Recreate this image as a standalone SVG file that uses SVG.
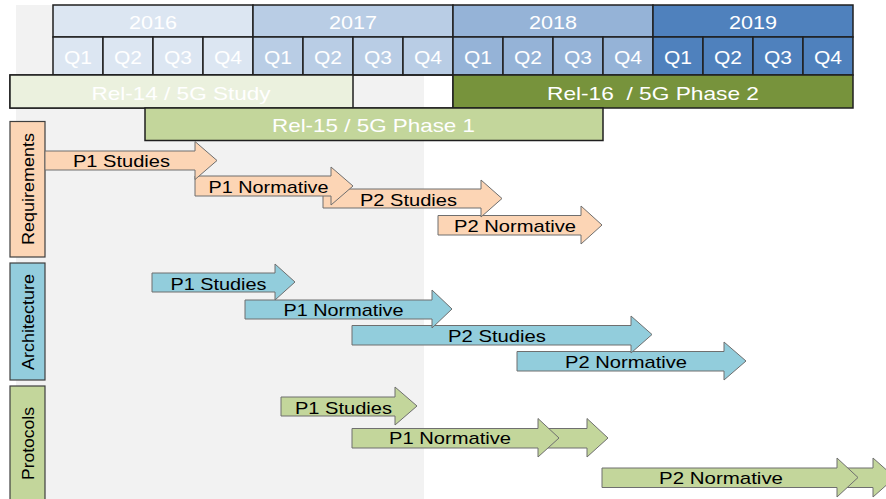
<svg xmlns="http://www.w3.org/2000/svg" width="886" height="499" viewBox="0 0 886 499">
<style>
text{font-family:"Liberation Sans",Arial,sans-serif}
.hd{fill:#fff;font-size:19px;text-anchor:middle}
.cell{stroke:#1f1f1f;stroke-width:1.5}
.rel{stroke:#1f1f1f;stroke-width:1.5}
.lab{stroke:#3f3f3f;stroke-width:1.2}
.lt{fill:#000;font-size:17px;text-anchor:middle}
.arr{stroke:#6f6f6f;stroke-width:1}
.at{fill:#000;font-size:17px;text-anchor:middle}
.or{fill:#fcd5b5}
.bl{fill:#92cddc}
.gr{fill:#c3d69b}
</style>
<rect x="0" y="0" width="886" height="499" fill="#fff"/>
<rect x="16" y="5" width="408" height="494" fill="#f2f2f2"/>

<g id="timeline">
<rect class="cell" x="53" y="5" width="200" height="32" fill="#dce6f2"/>
<rect class="cell" x="253" y="5" width="200" height="32" fill="#b9cde5"/>
<rect class="cell" x="453" y="5" width="200" height="32" fill="#95b3d7"/>
<rect class="cell" x="653" y="5" width="200" height="32" fill="#4f81bd"/>
<text class="hd" x="153" y="28.5" textLength="48" lengthAdjust="spacingAndGlyphs">2016</text>
<text class="hd" x="353" y="28.5" textLength="48" lengthAdjust="spacingAndGlyphs">2017</text>
<text class="hd" x="553" y="28.5" textLength="48" lengthAdjust="spacingAndGlyphs">2018</text>
<text class="hd" x="753" y="28.5" textLength="48" lengthAdjust="spacingAndGlyphs">2019</text>
<g>
<rect class="cell" x="53" y="37" width="50" height="38" fill="#dce6f2"/>
<rect class="cell" x="103" y="37" width="50" height="38" fill="#dce6f2"/>
<rect class="cell" x="153" y="37" width="50" height="38" fill="#dce6f2"/>
<rect class="cell" x="203" y="37" width="50" height="38" fill="#dce6f2"/>
<rect class="cell" x="253" y="37" width="50" height="38" fill="#b9cde5"/>
<rect class="cell" x="303" y="37" width="50" height="38" fill="#b9cde5"/>
<rect class="cell" x="353" y="37" width="50" height="38" fill="#b9cde5"/>
<rect class="cell" x="403" y="37" width="50" height="38" fill="#b9cde5"/>
<rect class="cell" x="453" y="37" width="50" height="38" fill="#95b3d7"/>
<rect class="cell" x="503" y="37" width="50" height="38" fill="#95b3d7"/>
<rect class="cell" x="553" y="37" width="50" height="38" fill="#95b3d7"/>
<rect class="cell" x="603" y="37" width="50" height="38" fill="#95b3d7"/>
<rect class="cell" x="653" y="37" width="50" height="38" fill="#4f81bd"/>
<rect class="cell" x="703" y="37" width="50" height="38" fill="#4f81bd"/>
<rect class="cell" x="753" y="37" width="50" height="38" fill="#4f81bd"/>
<rect class="cell" x="803" y="37" width="50" height="38" fill="#4f81bd"/>
</g>
<g>
<text class="hd" x="78" y="64" textLength="28" lengthAdjust="spacingAndGlyphs">Q1</text>
<text class="hd" x="128" y="64" textLength="28" lengthAdjust="spacingAndGlyphs">Q2</text>
<text class="hd" x="178" y="64" textLength="28" lengthAdjust="spacingAndGlyphs">Q3</text>
<text class="hd" x="228" y="64" textLength="28" lengthAdjust="spacingAndGlyphs">Q4</text>
<text class="hd" x="278" y="64" textLength="28" lengthAdjust="spacingAndGlyphs">Q1</text>
<text class="hd" x="328" y="64" textLength="28" lengthAdjust="spacingAndGlyphs">Q2</text>
<text class="hd" x="378" y="64" textLength="28" lengthAdjust="spacingAndGlyphs">Q3</text>
<text class="hd" x="428" y="64" textLength="28" lengthAdjust="spacingAndGlyphs">Q4</text>
<text class="hd" x="478" y="64" textLength="28" lengthAdjust="spacingAndGlyphs">Q1</text>
<text class="hd" x="528" y="64" textLength="28" lengthAdjust="spacingAndGlyphs">Q2</text>
<text class="hd" x="578" y="64" textLength="28" lengthAdjust="spacingAndGlyphs">Q3</text>
<text class="hd" x="628" y="64" textLength="28" lengthAdjust="spacingAndGlyphs">Q4</text>
<text class="hd" x="678" y="64" textLength="28" lengthAdjust="spacingAndGlyphs">Q1</text>
<text class="hd" x="728" y="64" textLength="28" lengthAdjust="spacingAndGlyphs">Q2</text>
<text class="hd" x="778" y="64" textLength="28" lengthAdjust="spacingAndGlyphs">Q3</text>
<text class="hd" x="828" y="64" textLength="28" lengthAdjust="spacingAndGlyphs">Q4</text>
</g>
</g>

<g id="rel14">
<rect class="rel" x="10" y="75" width="443" height="33" fill="none"/>
<rect class="rel" x="10" y="75" width="343" height="33" fill="#ebf1de"/>
<text class="hd" x="181" y="99.5" textLength="179" lengthAdjust="spacingAndGlyphs">Rel-14 / 5G Study</text>
</g>
<g id="rel16">
<rect class="rel" x="453" y="75" width="400" height="33" fill="#77933c"/>
<text class="hd" x="653" y="100" textLength="212" lengthAdjust="spacingAndGlyphs" xml:space="preserve">Rel-16  / 5G Phase 2</text>
</g>
<g id="rel15">
<rect class="rel" x="145" y="108" width="458" height="32.5" fill="#c3d69b"/>
<text class="hd" x="373.5" y="132" textLength="203" lengthAdjust="spacingAndGlyphs">Rel-15 / 5G Phase 1</text>
</g>

<g id="lbl-requirements">
<rect class="lab" x="10" y="121.5" width="35" height="135.5" fill="#fcd5b5"/>
<text class="lt" transform="translate(33.5,189) rotate(-90)" textLength="112" lengthAdjust="spacingAndGlyphs">Requirements</text>
</g>
<g id="lbl-architecture">
<rect class="lab" x="10" y="263" width="35" height="117" fill="#93cddd"/>
<text class="lt" transform="translate(33.5,322) rotate(-90)" textLength="96" lengthAdjust="spacingAndGlyphs">Architecture</text>
</g>
<g id="lbl-protocols">
<rect class="lab" x="10" y="386" width="35" height="125" fill="#c3d69b"/>
<text class="lt" transform="translate(33.5,443.5) rotate(-90)" textLength="73" lengthAdjust="spacingAndGlyphs">Protocols</text>
</g>

<g id="connectors">
<!-- Requirements -->
<g id="req-p2-normative">
<polygon class="arr or" points="438,215.5 581,215.5 581,206 602,225 581,244 581,235 438,235"/>
<text class="at" x="515" y="231.5" textLength="122" lengthAdjust="spacingAndGlyphs">P2 Normative</text>
</g>
<g id="req-p2-studies">
<polygon class="arr or" points="323,189 481,189 481,180 502,198.5 481,217 481,208 323,208"/>
<text class="at" x="408.5" y="205.5" textLength="97" lengthAdjust="spacingAndGlyphs">P2 Studies</text>
</g>
<g id="req-p1-normative">
<polygon class="arr or" points="195,176 331,176 331,167 353,186 331,205 331,196 195,196"/>
<text class="at" x="268.5" y="192.5" textLength="120" lengthAdjust="spacingAndGlyphs">P1 Normative</text>
</g>
<g id="req-p1-studies">
<polygon class="arr or" points="45,151 195,151 195,141.5 217,160.5 195,179.5 195,170 45,170"/>
<text class="at" x="121.5" y="167" textLength="97" lengthAdjust="spacingAndGlyphs">P1 Studies</text>
</g>
<!-- Architecture -->
<g id="arch-p2-normative">
<polygon class="arr bl" points="517,351.5 724,351.5 724,342 746,361 724,380 724,371 517,371"/>
<text class="at" x="626" y="367.5" textLength="122" lengthAdjust="spacingAndGlyphs">P2 Normative</text>
</g>
<g id="arch-p2-studies">
<polygon class="arr bl" points="352,325.5 631,325.5 631,316 652,334.5 631,353 631,345 352,345"/>
<text class="at" x="497" y="341.5" textLength="98" lengthAdjust="spacingAndGlyphs">P2 Studies</text>
</g>
<g id="arch-p1-normative">
<polygon class="arr bl" points="245,300 432,300 432,290 452,309 432,328 432,319 245,319"/>
<text class="at" x="343.5" y="316" textLength="120" lengthAdjust="spacingAndGlyphs">P1 Normative</text>
</g>
<g id="arch-p1-studies">
<polygon class="arr bl" points="152,273 275,273 275,264 295,282 275,300 275,292 152,292"/>
<text class="at" x="218.5" y="290" textLength="96" lengthAdjust="spacingAndGlyphs">P1 Studies</text>
</g>
<!-- Protocols -->
<g id="prot-p2-normative">
<polygon class="arr gr" points="840,468 873,468 873,458 895,477.5 873,497 873,487.5 840,487.5"/>
<polygon class="arr gr" points="602,468 837,468 837,458 858,477.5 837,497 837,487.5 602,487.5"/>
<text class="at" x="721" y="483.5" textLength="124" lengthAdjust="spacingAndGlyphs">P2 Normative</text>
</g>
<g id="prot-p1-normative">
<polygon class="arr gr" points="540,428.5 587,428.5 587,418.5 608,438 587,457 587,448 540,448"/>
<polygon class="arr gr" points="352,428.5 538,428.5 538,418.5 559,438 538,457 538,448 352,448"/>
<text class="at" x="450" y="443.5" textLength="122" lengthAdjust="spacingAndGlyphs">P1 Normative</text>
</g>
<g id="prot-p1-studies">
<polygon class="arr gr" points="281,397 395,397 395,387 417,406 395,425 395,416 281,416"/>
<text class="at" x="343.5" y="413.5" textLength="97" lengthAdjust="spacingAndGlyphs">P1 Studies</text>
</g>
</g>
</svg>
